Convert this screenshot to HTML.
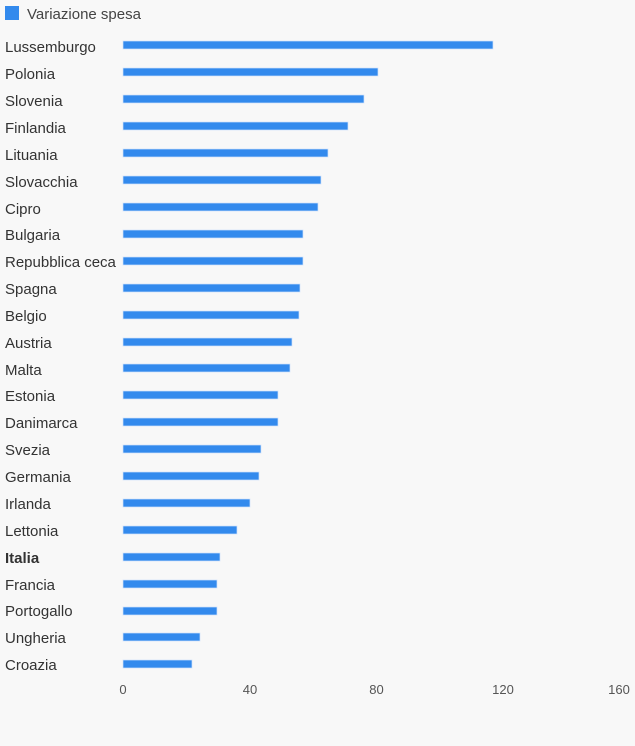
<!DOCTYPE html>
<html><head><meta charset="utf-8"><style>
body{margin:0;background:#f8f8f8;font-family:"Liberation Sans",sans-serif;}
</style></head><body>
<svg width="635" height="746" xmlns="http://www.w3.org/2000/svg" style="display:block">
<rect width="635" height="746" fill="#f8f8f8"/>
<rect x="5" y="6" width="14" height="14" fill="#338aed"/>
<text x="27" y="19" font-size="15" fill="#444">Variazione spesa</text>
<g font-size="13" fill="#555" text-anchor="middle">
<text x="123" y="694">0</text>
<text x="250" y="694">40</text>
<text x="376.5" y="694">80</text>
<text x="503" y="694">120</text>
<text x="619" y="694">160</text>
</g>
<g fill="#338aed" stroke="#cfe3fb" stroke-width="0.7">
<rect x="123" y="41" width="370" height="8"/>
<rect x="123" y="68" width="255" height="8"/>
<rect x="123" y="95" width="241" height="8"/>
<rect x="123" y="122" width="225" height="8"/>
<rect x="123" y="149" width="205" height="8"/>
<rect x="123" y="176" width="198" height="8"/>
<rect x="123" y="203" width="195" height="8"/>
<rect x="123" y="230" width="180" height="8"/>
<rect x="123" y="257" width="180" height="8"/>
<rect x="123" y="284" width="177" height="8"/>
<rect x="123" y="311" width="176" height="8"/>
<rect x="123" y="338" width="169" height="8"/>
<rect x="123" y="364" width="167" height="8"/>
<rect x="123" y="391" width="155" height="8"/>
<rect x="123" y="418" width="155" height="8"/>
<rect x="123" y="445" width="138" height="8"/>
<rect x="123" y="472" width="136" height="8"/>
<rect x="123" y="499" width="127" height="8"/>
<rect x="123" y="526" width="114" height="8"/>
<rect x="123" y="553" width="97" height="8"/>
<rect x="123" y="580" width="94" height="8"/>
<rect x="123" y="607" width="94" height="8"/>
<rect x="123" y="633" width="77" height="8"/>
<rect x="123" y="660" width="69" height="8"/>
</g>
<g font-size="15" fill="#333">
<text x="5" y="52">Lussemburgo</text>
<text x="5" y="79">Polonia</text>
<text x="5" y="106">Slovenia</text>
<text x="5" y="133">Finlandia</text>
<text x="5" y="160">Lituania</text>
<text x="5" y="187">Slovacchia</text>
<text x="5" y="214">Cipro</text>
<text x="5" y="240">Bulgaria</text>
<text x="5" y="267">Repubblica ceca</text>
<text x="5" y="294">Spagna</text>
<text x="5" y="321">Belgio</text>
<text x="5" y="348">Austria</text>
<text x="5" y="375">Malta</text>
<text x="5" y="401">Estonia</text>
<text x="5" y="428">Danimarca</text>
<text x="5" y="455">Svezia</text>
<text x="5" y="482">Germania</text>
<text x="5" y="509">Irlanda</text>
<text x="5" y="536">Lettonia</text>
<text x="5" y="563" font-weight="bold">Italia</text>
<text x="5" y="590">Francia</text>
<text x="5" y="616">Portogallo</text>
<text x="5" y="643">Ungheria</text>
<text x="5" y="670">Croazia</text>
</g>
</svg>
</body></html>
